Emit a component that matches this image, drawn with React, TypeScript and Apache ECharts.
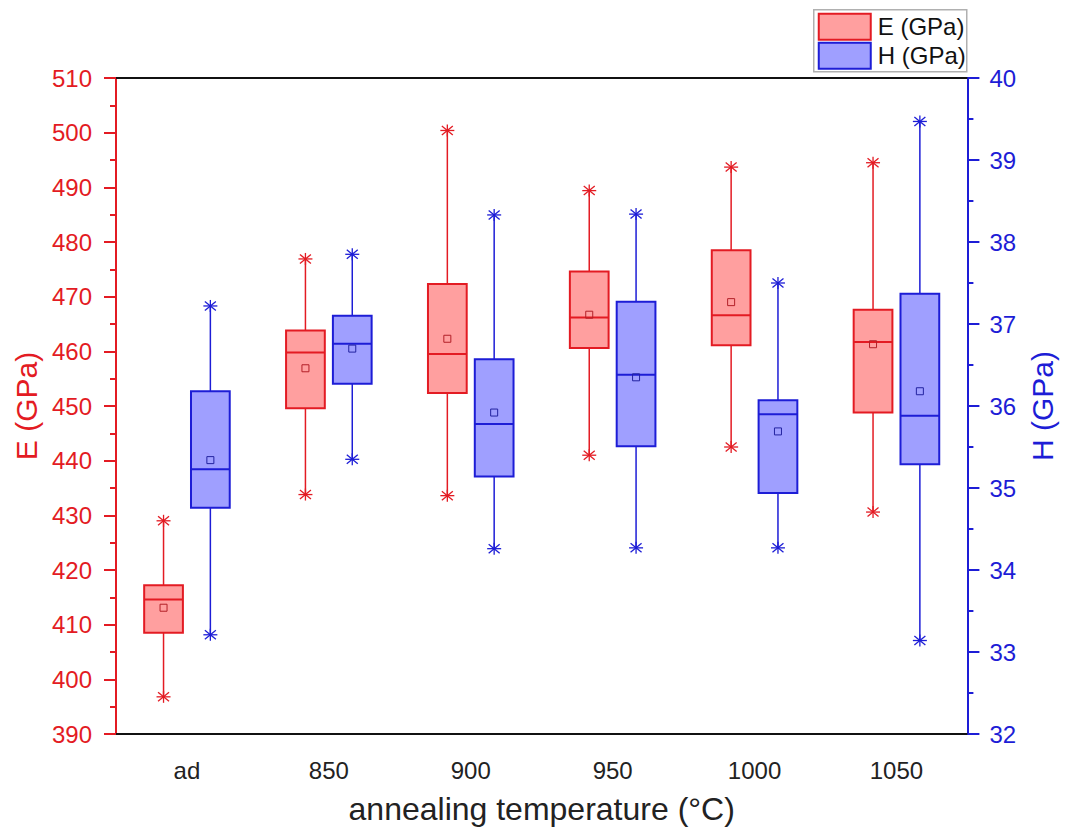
import React, { useEffect, useRef } from "react";
import * as echarts from "echarts";

const categories = ["ad", "850", "900", "950", "1000", "1050"];

// E (GPa): whisker min, Q1, median, Q3, whisker max, mean
const eMin = [396.8, 433.8, 433.6, 441.0, 442.5, 430.6];
const eQ1 = [408.5, 449.6, 452.4, 460.6, 461.1, 448.8];
const eMedian = [414.6, 459.8, 459.5, 466.2, 466.6, 461.7];
const eQ3 = [417.2, 463.8, 472.3, 474.6, 478.5, 467.6];
const eMax = [429.0, 476.9, 500.4, 489.4, 493.7, 494.5];
const eMean = [413.1, 456.9, 462.3, 466.7, 469.0, 461.3];

// H (GPa)
const hMin = [33.21, 35.35, 34.26, 34.27, 34.27, 33.14];
const hQ1 = [34.76, 36.27, 35.14, 35.51, 34.94, 35.29];
const hMedian = [35.23, 36.76, 35.78, 36.38, 35.9, 35.88];
const hQ3 = [36.18, 37.1, 36.57, 37.27, 36.07, 37.37];
const hMax = [37.22, 37.85, 38.33, 38.34, 37.5, 39.47];
const hMean = [35.34, 36.7, 35.92, 36.35, 35.69, 36.18];

const RED = "#e31b23";
const RED_FILL = "rgba(255,95,95,0.6)";
const RED_DARK = "#b32028";
const BLUE = "#1d1dd6";
const BLUE_FILL = "rgba(95,95,255,0.6)";
const BLUE_DARK = "#2323a0";
const FONT = "'Liberation Sans', Arial, Helvetica, sans-serif";

function buildData(mn: number[], q1: number[], md: number[], q3: number[], mx: number[], mean: number[]) {
  return categories.map((_, i) => [i, mn[i], q1[i], md[i], q3[i], mx[i], mean[i]]);
}

function makeRender(sign: number, stroke: string, fill: string, dark: string) {
  return (params: any, api: any) => {
    const xi = api.value(0);
    const band = api.size([1, 0])[0];
    const pMin = api.coord([xi, api.value(1)]);
    const pQ1 = api.coord([xi, api.value(2)]);
    const pMed = api.coord([xi, api.value(3)]);
    const pQ3 = api.coord([xi, api.value(4)]);
    const pMax = api.coord([xi, api.value(5)]);
    const pMean = api.coord([xi, api.value(6)]);
    const cx = pMin[0] + sign * band * 0.165;
    const w = band * 0.273;
    const star = (y: number) => [
      { type: "line", shape: { x1: cx - 7, y1: y, x2: cx + 7, y2: y }, style: { stroke, lineWidth: 1.3 } },
      { type: "line", shape: { x1: cx - 5.5, y1: y - 4.5, x2: cx + 5.5, y2: y + 4.5 }, style: { stroke, lineWidth: 1.3 } },
      { type: "line", shape: { x1: cx - 5.5, y1: y + 4.5, x2: cx + 5.5, y2: y - 4.5 }, style: { stroke, lineWidth: 1.3 } },
      { type: "line", shape: { x1: cx, y1: y - 6, x2: cx, y2: y + 6 }, style: { stroke, lineWidth: 1.3 } },
    ];
    return {
      type: "group",
      children: [
        { type: "line", shape: { x1: cx, y1: pMax[1], x2: cx, y2: pQ3[1] }, style: { stroke, lineWidth: 1.5 } },
        { type: "line", shape: { x1: cx, y1: pQ1[1], x2: cx, y2: pMin[1] }, style: { stroke, lineWidth: 1.5 } },
        ...star(pMax[1]),
        ...star(pMin[1]),
        {
          type: "rect",
          shape: { x: cx - w / 2, y: pQ3[1], width: w, height: pQ1[1] - pQ3[1] },
          style: { fill, stroke, lineWidth: 2 },
        },
        { type: "line", shape: { x1: cx - w / 2, y1: pMed[1], x2: cx + w / 2, y2: pMed[1] }, style: { stroke, lineWidth: 2 } },
        {
          type: "rect",
          shape: { x: cx - 3.5, y: pMean[1] - 3.5, width: 7, height: 7 },
          style: { fill: "none", stroke: dark, lineWidth: 1 },
        },
      ],
    };
  };
}

export default function App() {
  const ref = useRef<HTMLDivElement>(null);
  useEffect(() => {
    if (!ref.current) return;
    const chart = echarts.init(ref.current, undefined, { renderer: "svg" });
    chart.setOption({
      animation: false,
      backgroundColor: "#ffffff",
      textStyle: { fontFamily: FONT },
      grid: { left: 116, right: 92, top: 78, bottom: 95, containLabel: false },
      xAxis: [
        {
          type: "category",
          data: categories,
          boundaryGap: true,
          position: "bottom",
          axisLine: { lineStyle: { color: "#111", width: 2 } },
          axisTick: { alignWithLabel: true, length: 11, lineStyle: { color: "#111", width: 2 } },
          axisLabel: { color: "#222", fontSize: 24, margin: 24, fontFamily: FONT },
          splitLine: { show: false },
          name: "annealing temperature (°C)",
          nameLocation: "middle",
          nameGap: 59,
          nameTextStyle: { color: "#222", fontSize: 32, fontFamily: FONT },
        },
        {
          type: "category",
          data: categories,
          position: "top",
          axisLine: { lineStyle: { color: "#111", width: 2 } },
          axisTick: { show: false },
          axisLabel: { show: false },
          splitLine: { show: false },
        },
      ],
      yAxis: [
        {
          type: "value",
          min: 390,
          max: 510,
          interval: 10,
          position: "left",
          axisLine: { show: true, lineStyle: { color: RED, width: 2 } },
          axisTick: { show: true, length: 12, lineStyle: { color: RED, width: 2 } },
          minorTick: { show: true, splitNumber: 2, length: 6, lineStyle: { color: RED, width: 2 } },
          axisLabel: { color: RED, fontSize: 24, margin: 24, fontFamily: FONT },
          splitLine: { show: false },
          name: "E (GPa)",
          nameLocation: "middle",
          nameRotate: 90,
          nameGap: 70,
          nameTextStyle: { color: RED, fontSize: 30, fontFamily: FONT },
        },
        {
          type: "value",
          min: 32,
          max: 40,
          interval: 1,
          position: "right",
          axisLine: { show: true, lineStyle: { color: BLUE, width: 2 } },
          axisTick: { show: true, length: 12, lineStyle: { color: BLUE, width: 2 } },
          minorTick: { show: true, splitNumber: 2, length: 6, lineStyle: { color: BLUE, width: 2 } },
          axisLabel: { color: BLUE, fontSize: 24, margin: 22, fontFamily: FONT },
          splitLine: { show: false },
          name: "H (GPa)",
          nameLocation: "middle",
          nameRotate: 90,
          nameGap: 57,
          nameTextStyle: { color: BLUE, fontSize: 30, fontFamily: FONT },
        },
      ],
      series: [
        {
          name: "E (GPa)",
          type: "custom",
          xAxisIndex: 0,
          yAxisIndex: 0,
          data: buildData(eMin, eQ1, eMedian, eQ3, eMax, eMean),
          encode: { x: 0, y: [1, 2, 3, 4, 5, 6] },
          renderItem: makeRender(-1, RED, RED_FILL, RED_DARK),
          clip: false,
        },
        {
          name: "H (GPa)",
          type: "custom",
          xAxisIndex: 0,
          yAxisIndex: 1,
          data: buildData(hMin, hQ1, hMedian, hQ3, hMax, hMean),
          encode: { x: 0, y: [1, 2, 3, 4, 5, 6] },
          renderItem: makeRender(1, BLUE, BLUE_FILL, BLUE_DARK),
          clip: false,
        },
      ],
      graphic: [
        {
          type: "group",
          left: 813,
          top: 9,
          children: [
            { type: "rect", shape: { x: 0, y: 0, width: 153, height: 62 }, style: { fill: "#fff", stroke: "#b0b0b0", lineWidth: 1.5 } },
            { type: "rect", shape: { x: 5, y: 4, width: 52, height: 26 }, style: { fill: RED_FILL, stroke: RED, lineWidth: 2 } },
            { type: "rect", shape: { x: 5, y: 33, width: 52, height: 26 }, style: { fill: BLUE_FILL, stroke: BLUE, lineWidth: 2 } },
            { type: "text", x: 64, y: 17, style: { text: "E (GPa)", fill: "#111", fontSize: 24, fontFamily: FONT, verticalAlign: "middle" } },
            { type: "text", x: 64, y: 46, style: { text: "H (GPa)", fill: "#111", fontSize: 24, fontFamily: FONT, verticalAlign: "middle" } },
          ],
        },
      ],
    });
    return () => chart.dispose();
  }, []);
  return <div ref={ref} style={{ position: "fixed", left: 0, top: 0, width: 1065, height: 830 }} />;
}
